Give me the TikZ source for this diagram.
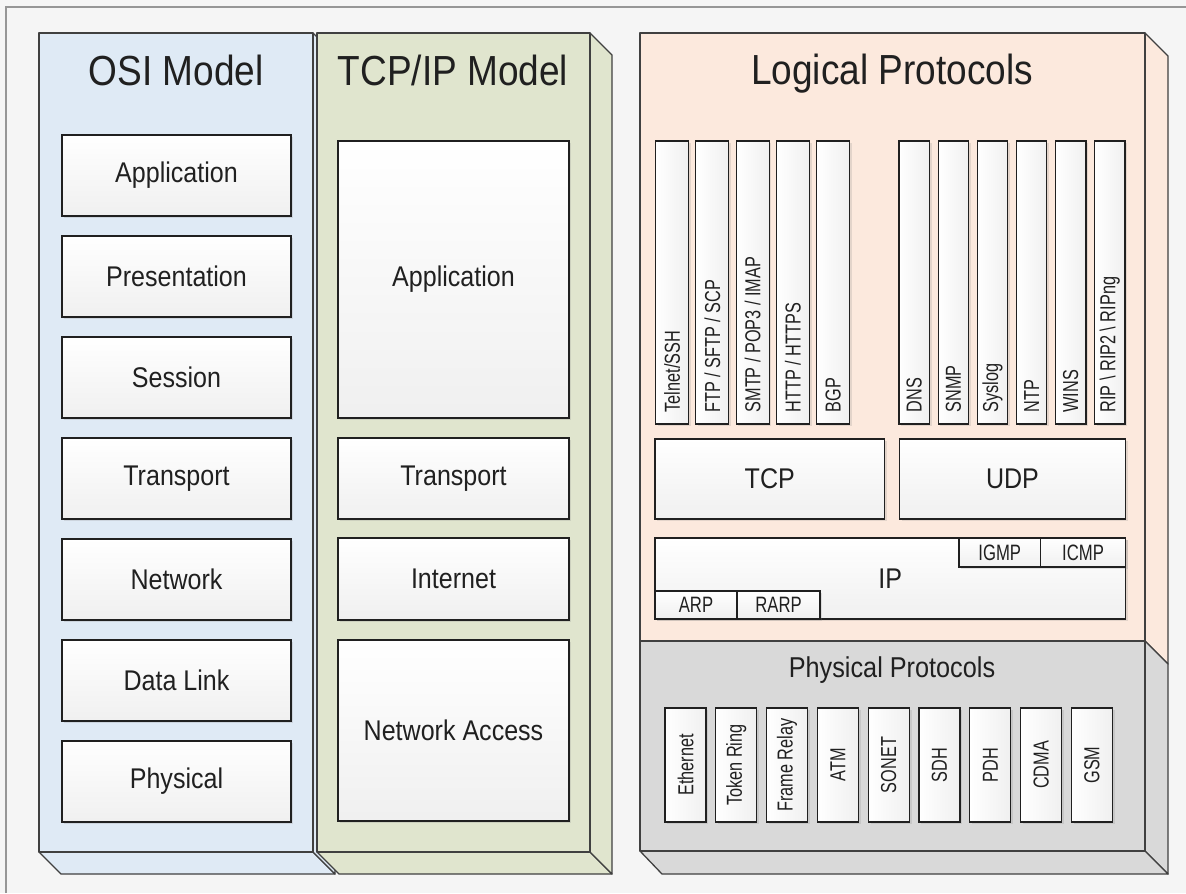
\documentclass[tikz,border=0pt]{standalone}
\usepackage{fontspec}
\setmainfont{Liberation Sans}
\newfontfamily\labelfont[FakeStretch=0.88]{Liberation Sans}
\newfontfamily\stripfont[FakeStretch=0.75]{Liberation Sans}
\usetikzlibrary{shadows}
\definecolor{osifill}{RGB}{223,234,245}
\definecolor{tcpfill}{RGB}{224,229,206}
\definecolor{logfill}{RGB}{252,233,221}
\definecolor{phyfill}{RGB}{217,217,217}
\definecolor{edgegray}{RGB}{64,64,64}
\definecolor{inkdark}{RGB}{32,32,32}
\definecolor{pagegray}{RGB}{245,245,245}
\definecolor{framegray}{RGB}{150,150,150}

\begin{document}
\begin{tikzpicture}[x=0.03cm, y=-0.03cm,
  % box given by its corners (x1,y1) and (x2,y2), in pixels
  spanbox/.style n args={4}{minimum width={((#3)-(#1))*0.03cm},
    minimum height={((#4)-(#2))*0.03cm}, at={({((#1)+(#3))/2},{((#2)+(#4))/2})}},
  slab/.style={draw=edgegray, line width=1.1pt, line join=round},
  title/.style={anchor=base, inner sep=0pt, text=inkdark,
    font=\labelfont\fontsize{35.9}{40}\selectfont},
  subtitle/.style={anchor=base, inner sep=0pt, text=inkdark,
    font=\labelfont\fontsize{24.5}{28}\selectfont},
  layer/.style={draw=inkdark, line width=1pt, inner sep=0pt,
    top color=white, bottom color=gray!12, text=inkdark,
    font=\labelfont\fontsize{24.3}{28}\selectfont,
    drop shadow={shadow xshift=2pt, shadow yshift=-2pt, opacity=0.2}},
  sublayer/.style={layer, font=\stripfont\fontsize{19}{21}\selectfont},
  strip/.style={draw=inkdark, line width=1pt, inner sep=0pt,
    left color=white, right color=gray!12,
    drop shadow={shadow xshift=2pt, shadow yshift=-2pt, opacity=0.2}},
  striptext/.style={rotate=90, inner sep=0pt, text=inkdark,
    font=\stripfont\fontsize{18.5}{20}\selectfont}]
\useasboundingbox (0,0) rectangle (1186,893);
% page and the frame round it
\fill[pagegray] (0,0) rectangle (1186,893);
\draw[framegray, line width=1.2pt] (6,893) -- (6,7) -- (1186,7);
% OSI slab: bottom, side, front
\draw[slab, fill=osifill] (39,852) -- (61,874) -- (335,874) -- (313,852) -- cycle;
\draw[slab, fill=osifill] (313,33) -- (335,55) -- (335,874) -- (313,852) -- cycle;
\draw[slab, fill=osifill] (39,33) rectangle (313,852);
% TCP/IP slab
\draw[slab, fill=tcpfill] (317,852) -- (339,874) -- (612,874) -- (590,852) -- cycle;
\draw[slab, fill=tcpfill] (590,33) -- (612,55) -- (612,874) -- (590,852) -- cycle;
\draw[slab, fill=tcpfill] (317,33) rectangle (590,852);
% logical and physical protocol slabs, stacked
\draw[slab, fill=logfill] (1145,33) -- (1168,56) -- (1168,664) -- (1145,641) -- cycle;
\draw[slab, fill=phyfill] (1145,641) -- (1168,664) -- (1168,874) -- (1145,851) -- cycle;
\draw[slab, fill=phyfill] (640,851) -- (662,874) -- (1168,874) -- (1145,851) -- cycle;
\draw[slab, fill=logfill] (640,33) rectangle (1145,641);
\draw[slab, fill=phyfill] (640,641) rectangle (1145,851);
% titles
\node[title] (osititle) at (176,85) {OSI Model};
\node[title] (tcptitle) at (453,85) {TCP/IP Model};
\node[title] (logtitle) at (892,84) {Logical Protocols};
\node[subtitle] (phytitle) at (892,677) {Physical Protocols};
% OSI layers
\foreach \name [count=\i from 0] in {Application,Presentation,Session,
    Transport,Network,Data Link,Physical}
  \node[layer, spanbox={62}{135+101*\i}{291}{216+101*\i}] (osi\i) {\name};
% TCP/IP layers
\node[layer, spanbox={338}{141}{569}{418}] (tcpapp) {Application};
\node[layer, spanbox={338}{438}{569}{519}] (tcptrans) {Transport};
\node[layer, spanbox={338}{538}{569}{620}] (tcpnet) {Internet};
\node[layer, spanbox={338}{640}{569}{821}] (tcpacc) {Network Access};
% application protocols over TCP
\foreach \proto [count=\i from 0] in {Telnet/SSH, FTP / SFTP / SCP,
    SMTP / POP3 / IMAP, HTTP / HTTPS, BGP} {
  \node[strip, spanbox={655.5+40.3*\i}{141}{688.5+40.3*\i}{424}] (ts\i) {};
  \path (ts\i.south) ++(0,-12) node[striptext, anchor=west] (tt\i) {\proto};
}
% application protocols over UDP
\foreach \proto [count=\i from 0] in {DNS, SNMP, Syslog, NTP, WINS,
    {RIP \textbackslash{} RIP2 \textbackslash{} RIPng}} {
  \node[strip, spanbox={899+39.1*\i}{141}{929.5+39.1*\i}{424}] (us\i) {};
  \path (us\i.south) ++(0,-12) node[striptext, anchor=west] (ut\i) {\proto};
}
% transport and internet protocols
\node[layer, spanbox={655}{439}{884.5}{519}] (tcp) {TCP};
\node[layer, spanbox={899.5}{439}{1125.5}{519}] (udp) {UDP};
\node[layer, spanbox={655}{538}{1125.5}{619}] (ip) {IP};
\node[sublayer, spanbox={959}{538}{1040.5}{567}] (igmp) {IGMP};
\node[sublayer, spanbox={1040.5}{538}{1125.5}{567}] (icmp) {ICMP};
\node[sublayer, spanbox={655}{591}{737}{619}] (arp) {ARP};
\node[sublayer, spanbox={737}{591}{820}{619}] (rarp) {RARP};
% physical protocols
\foreach \phy [count=\i from 0] in {Ethernet, Token Ring, Frame Relay,
    ATM, SONET, SDH, PDH, CDMA, GSM} {
  \node[strip, spanbox={665+50.8*\i}{708}{706+50.8*\i}{822}] (ps\i) {};
  \node[striptext] (pt\i) at (ps\i.center) {\phy};
}
\end{tikzpicture}
\end{document}
